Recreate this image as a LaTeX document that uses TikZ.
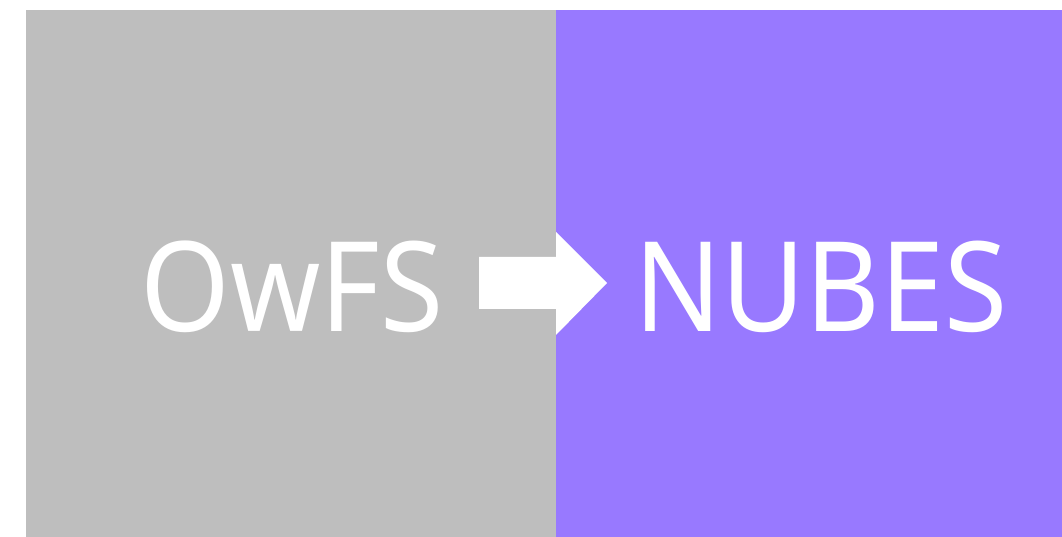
\documentclass[tikz,border=0pt]{standalone}
\usepackage{fontspec}
\setmainfont{Noto Sans}[FakeStretch=0.92]
\definecolor{panelgray}{RGB}{190,190,190}
\definecolor{panelpurple}{RGB}{152,121,255}
\begin{document}
\begin{tikzpicture}[x=1pt,y=1pt,
  bigtext/.style={text=white,inner sep=0pt,anchor=base,font=\fontsize{125}{125}\selectfont}]
\useasboundingbox (0,0) rectangle (1062,537);
\fill[white] (0,0) rectangle (1062,537);
\fill[panelgray] (26,0) rectangle (556,527);
\fill[panelpurple] (556,0) rectangle (1062,527);
\fill[white] (479,228) -- (556,228) -- (556,305) -- (607,254) -- (556,202) -- (556,280) -- (479,280) -- cycle;
\node[bigtext] (owfs) at (292,205) {OwFS};
\node[bigtext] (nubes) at (821,205) {NUBES};
\end{tikzpicture}
\end{document}
